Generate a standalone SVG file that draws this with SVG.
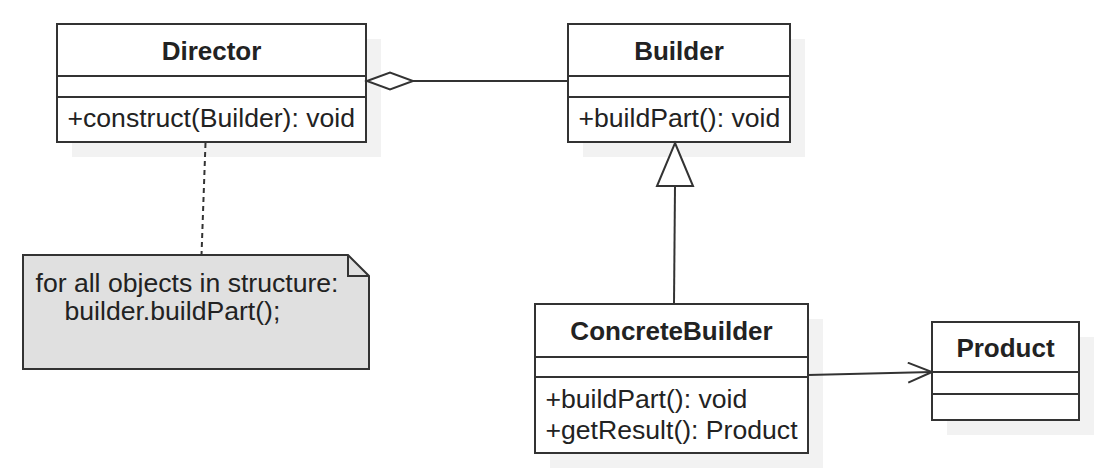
<svg xmlns="http://www.w3.org/2000/svg" width="1115" height="469" viewBox="0 0 1115 469">
<defs>
<style>
.box{fill:#fff;stroke:#333;stroke-width:2}
.sh{fill:#f2f2f2;stroke:none}
.ln{stroke:#333;stroke-width:2;fill:none}
.t{font-family:"Liberation Sans",Arial,sans-serif;font-size:26.6px;fill:#222}
.b{font-weight:bold;font-size:26px;text-anchor:middle}
</style>
<marker id="open" markerWidth="28" markerHeight="24" refX="25" refY="11" orient="auto" markerUnits="userSpaceOnUse">
<path d="M1,1 L25,11 L1,21" fill="none" stroke="#333" stroke-width="2"/>
</marker>
</defs>
<rect width="1115" height="469" fill="#fff"/>
<g id="Director">
<rect class="sh" x="72" y="39" width="309" height="118"/>
<rect class="box" x="57" y="24" width="309" height="118"/>
<line class="ln" x1="57" y1="76" x2="366" y2="76"/>
<line class="ln" x1="57" y1="97" x2="366" y2="97"/>
<text class="t b" x="211.5" y="60">Director</text>
<text class="t" x="67.5" y="127">+construct(Builder): void</text>
</g>
<g id="Builder">
<rect class="sh" x="583" y="39" width="222" height="118"/>
<rect class="box" x="568" y="24" width="222" height="118"/>
<line class="ln" x1="568" y1="76" x2="790" y2="76"/>
<line class="ln" x1="568" y1="97" x2="790" y2="97"/>
<text class="t b" x="679" y="60">Builder</text>
<text class="t" x="578.5" y="127">+buildPart(): void</text>
</g>
<g id="ConcreteBuilder">
<rect class="sh" x="550" y="319" width="273" height="149"/>
<rect class="box" x="535" y="304" width="273" height="149"/>
<line class="ln" x1="535" y1="357" x2="808" y2="357"/>
<line class="ln" x1="535" y1="377" x2="808" y2="377"/>
<text class="t b" x="671.5" y="340">ConcreteBuilder</text>
<text class="t" x="545.5" y="408">+buildPart(): void</text>
<text class="t" x="545.5" y="439">+getResult(): Product</text>
</g>
<g id="Product">
<rect class="sh" x="947" y="337" width="147" height="98"/>
<rect class="box" x="932" y="322" width="147" height="98"/>
<line class="ln" x1="932" y1="372" x2="1079" y2="372"/>
<line class="ln" x1="932" y1="394" x2="1079" y2="394"/>
<text class="t b" x="1005.5" y="357">Product</text>
</g>
<g id="Note">
<path d="M23,255 L348,255 L369,276 L369,369 L23,369 Z" fill="#e0e0e0" stroke="#333" stroke-width="2"/>
<path d="M348,255 L348,276 L369,276" fill="none" stroke="#333" stroke-width="2"/>
<text class="t" x="35.5" y="292">for all objects in structure:</text>
<text class="t" x="64.5" y="320">builder.buildPart();</text>
</g>
<g id="connectors">
<line class="ln" x1="413" y1="81" x2="568" y2="81"/>
<path d="M367,81 L390,72.5 L413,81 L390,89.5 Z" fill="#fff" stroke="#333" stroke-width="2"/>
<line class="ln" x1="674" y1="304" x2="675" y2="186"/>
<path d="M675,143 L693,186 L657,186 Z" fill="#fff" stroke="#333" stroke-width="2"/>
<line class="ln" x1="808" y1="375" x2="932" y2="372" marker-end="url(#open)"/>
<line class="ln" x1="205.5" y1="143" x2="201.5" y2="255" stroke-dasharray="5,4"/>
</g>
</svg>
